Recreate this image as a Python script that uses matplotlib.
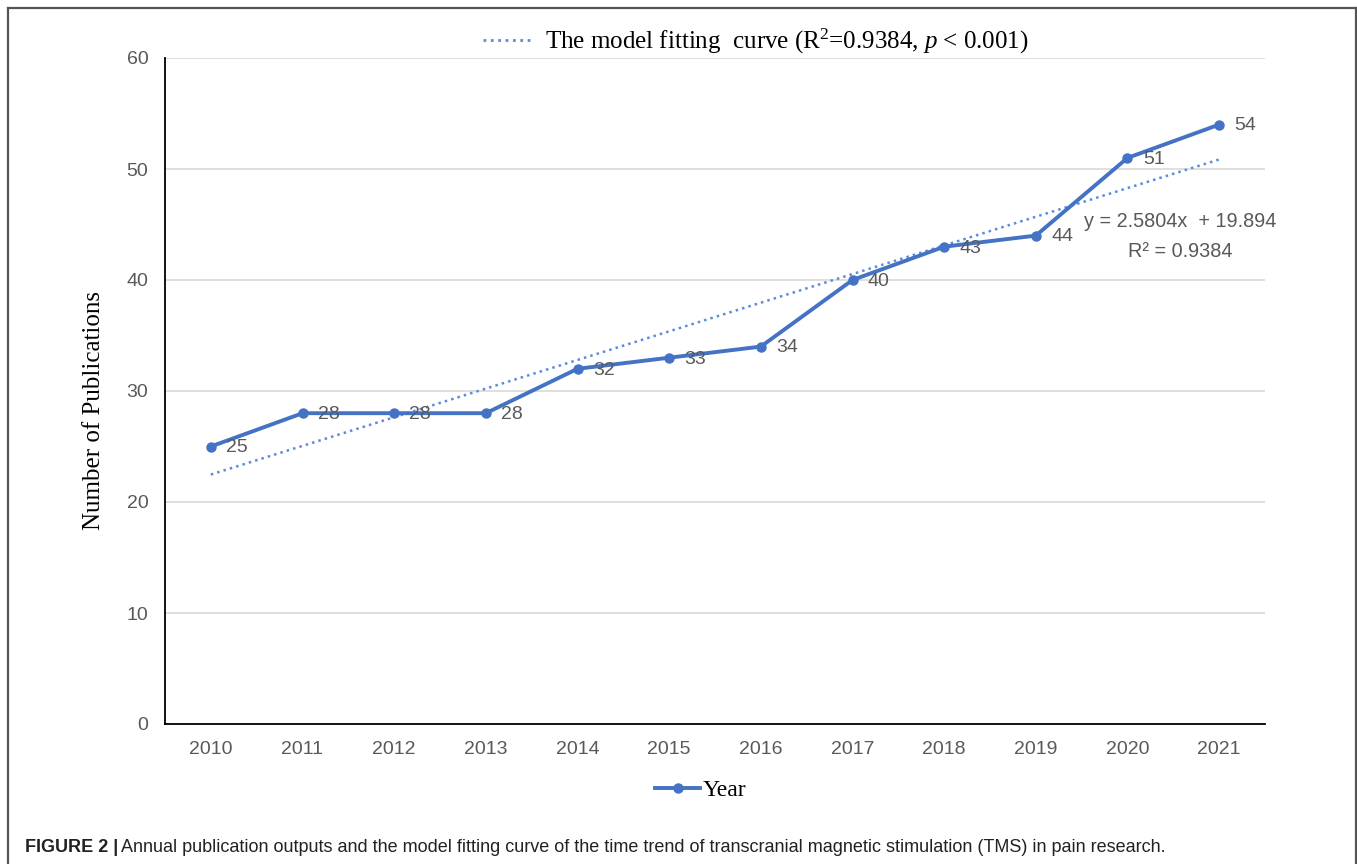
import numpy as np
import matplotlib
matplotlib.use("Agg")
import matplotlib.pyplot as plt
from matplotlib.lines import Line2D

plt.rcParams['mathtext.fontset'] = 'custom'
plt.rcParams['mathtext.rm'] = 'Liberation Serif'
plt.rcParams['mathtext.it'] = 'Liberation Serif:italic'

years = ["2010", "2011", "2012", "2013", "2014", "2015",
         "2016", "2017", "2018", "2019", "2020", "2021"]
publications = [25, 28, 28, 28, 32, 33, 34, 40, 43, 44, 51, 54]
slope = 2.5804
intercept = 19.894
y_ticks = [0, 10, 20, 30, 40, 50, 60]

line_col = '#4472C4'
trend_col = '#5B8BD9'
gray = '#595959'

fig = plt.figure(figsize=(13.57, 8.64), dpi=100)
ax = fig.add_axes([165/1357, 1 - 724/864, 1100/1357, 666/864])

x = np.arange(len(years))
fit = slope * (x + 1) + intercept

ax.plot(x, fit, linestyle=':', color=trend_col, linewidth=1.8, zorder=2)
ax.plot(x, publications, color=line_col, linewidth=2.8, marker='o',
        markersize=6.5, zorder=3)

for xi, v in zip(x, publications):
    ax.annotate(str(v), (xi, v), xytext=(11, -1), textcoords='offset points',
                ha='left', va='center', fontsize=14, color=gray,
                family='Liberation Sans')

ax.text(10.57, 45.3, "y = 2.5804x  + 19.894", ha='center', va='center',
        fontsize=14.3, color=gray, family='Liberation Sans')
ax.text(10.57, 42.6, "R\u00b2 = 0.9384", ha='center', va='center',
        fontsize=14.3, color=gray, family='Liberation Sans')

ax.set_xlim(-0.5, len(years) - 0.5)
ax.set_ylim(0, 60)
ax.set_xticks(x)
ax.set_xticklabels(years)
ax.set_yticks(y_ticks)
ax.tick_params(length=0, labelsize=14, labelcolor=gray, pad=12)
for lab in ax.get_xticklabels() + ax.get_yticklabels():
    lab.set_family('Liberation Sans')
ax.yaxis.grid(True, color='#D9D9D9', linewidth=1.2)
ax.set_axisbelow(True)
for s in ['top', 'right']:
    ax.spines[s].set_visible(False)
for s in ['left', 'bottom']:
    ax.spines[s].set_color('black')
    ax.spines[s].set_linewidth(1.3)

ax.set_ylabel("Number of Publications", family='Liberation Serif',
              fontsize=18, color='black')
ax.yaxis.set_label_coords(-0.0545, 0.47)

# legends
h_fit = Line2D([], [], linestyle=':', color=trend_col, linewidth=2)
leg1 = ax.legend([h_fit], ["The model fitting  curve (R$^2$=0.9384, $p$ < 0.001)"],
                 loc='center', bbox_to_anchor=(0.537, 1.025), frameon=False,
                 prop={'family': 'Liberation Serif', 'size': 18},
                 handlelength=2.0, handletextpad=0.5)
ax.add_artist(leg1)
h_year = Line2D([], [], color=line_col, linewidth=2.8, marker='o', markersize=6.5)
ax.legend([h_year], ["Year"], loc='center', bbox_to_anchor=(0.487, -0.1),
          frameon=False, prop={'family': 'Liberation Serif', 'size': 17},
          handlelength=1.9, handletextpad=0.1)

# frame around the figure panel
bc = '#555555'
fx0, fx1, fy1 = 8/1357, 1356/1357, 1 - 8/864
for xs, ys in [([fx0, fx0], [0, fy1]), ([fx0, fx1], [fy1, fy1]), ([fx1, fx1], [fy1, 0])]:
    fig.add_artist(Line2D(xs, ys, transform=fig.transFigure, color=bc, linewidth=1.6))

fig.text(25/1357, 1 - 847/864, "FIGURE 2 |", fontsize=13, fontweight='bold',
         family='Liberation Sans', color='#222222', va='center', ha='left')
fig.text(121/1357, 1 - 847/864,
         "Annual publication outputs and the model fitting curve of the time trend of "
         "transcranial magnetic stimulation (TMS) in pain research.",
         fontsize=13.0, family='Liberation Sans', color='#222222', va='center', ha='left')

fig.savefig("out.png", dpi=100)
